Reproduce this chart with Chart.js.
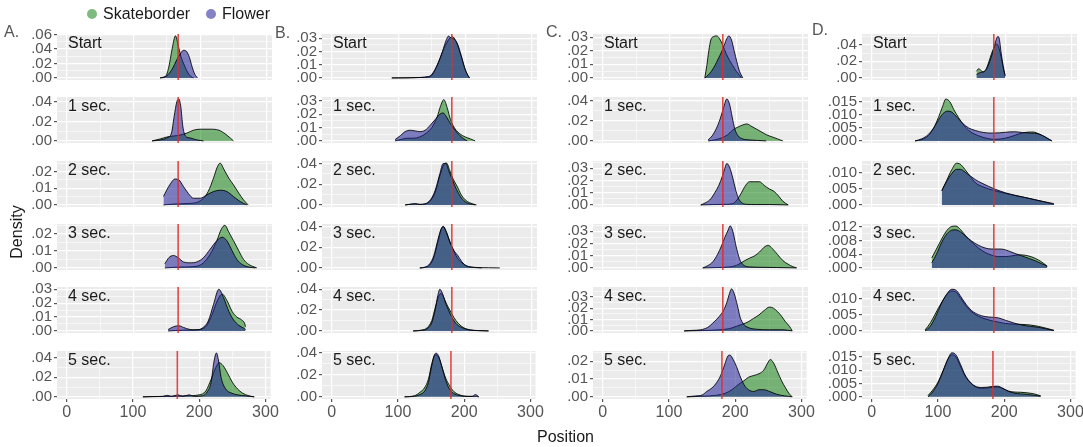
<!DOCTYPE html>
<html>
<head>
<meta charset="utf-8">
<script src="https://cdn.jsdelivr.net/npm/chart.js@4.4.1/dist/chart.umd.min.js"></script>
<style>
  body { margin: 0; background: #fff; font-family: "Liberation Sans", Arial, sans-serif; }
  #stage { position: relative; width: 1083px; height: 447px; overflow: hidden; }
  .box { position: absolute; }
  .txt { position: absolute; white-space: nowrap; font-size: 16px; line-height: 16px; color: #1a1a1a; }
  .grey { color: #555; }
  .dot { position: absolute; width: 10px; height: 10px; border-radius: 50%; }
</style>
</head>
<body>
<div id="stage"></div>
<script>
// ================= DATA =================
const rowLabels = ["Start", "1 sec.", "2 sec.", "3 sec.", "4 sec.", "5 sec."];
const panelLetters = ["A.", "B.", "C.", "D."];
const seriesNames = ["Skateborder", "Flower"];
const xTicks = [0, 100, 200, 300];
const refLines = [167, 180, 180, 183];

// top of each facet's density axis, and the spacing of its labelled ticks
const yTopA = [0.0605, 0.045, 0.0263, 0.0258, 0.0316, 0.047];
const yTopB = [0.0331, 0.033, 0.0425, 0.0427, 0.0422, 0.0415];
const yTopC = [0.0324, 0.044, 0.036, 0.036, 0.0387, 0.0258];
const yTopD = [0.053, 0.0168, 0.0137, 0.0128, 0.0135, 0.0172];
const yStepA = [0.02, 0.02, 0.01, 0.01, 0.01, 0.02];
const yStepB = [0.01, 0.01, 0.02, 0.02, 0.02, 0.02];
const yStepC = [0.01, 0.02, 0.01, 0.01, 0.01, 0.01];
const yStepD = [0.02, 0.005, 0.005, 0.004, 0.005, 0.005];

// [position, density] per row: Start, 1..5 sec.
const skateA = [
  [[140,0],[148,0.002],[153,0.015],[158,0.04],[163,0.058],[167,0.045],[171,0.03],[176,0.018],[181,0.008],[186,0.002],[190,0]],
  [[128,0],[140,0.002],[150,0.004],[160,0.005],[170,0.006],[180,0.008],[190,0.011],[200,0.012],[215,0.012],[228,0.011],[238,0.007],[245,0.003],[250,0]],
  [[145,0],[160,0.0005],[180,0.0008],[195,0.0015],[205,0.004],[212,0.008],[220,0.016],[226,0.023],[230,0.025],[236,0.021],[243,0.016],[250,0.012],[258,0.007],[265,0.003],[272,0]],
  [[147,0],[170,0.0005],[195,0.001],[205,0.003],[215,0.008],[225,0.016],[232,0.023],[237,0.025],[243,0.021],[250,0.016],[258,0.01],[265,0.005],[273,0.002],[285,0]],
  [[152,0],[175,0.0005],[200,0.001],[210,0.004],[218,0.012],[226,0.022],[233,0.0265],[240,0.022],[248,0.014],[255,0.01],[262,0.008],[267,0.005],[268,0.003]],
  [[115,0],[140,0.0003],[160,0.0005],[180,0.001],[200,0.002],[210,0.006],[218,0.018],[225,0.03],[230,0.035],[236,0.032],[243,0.024],[250,0.015],[258,0.008],[265,0.004],[275,0.001],[283,0]]
];
const flowerA = [
  [[140,0],[150,0.003],[158,0.012],[165,0.025],[170,0.033],[175,0.038],[180,0.036],[184,0.028],[188,0.015],[192,0.005],[196,0]],
  [[128,0],[140,0.001],[150,0.003],[157,0.008],[161,0.025],[165,0.04],[168,0.043],[171,0.035],[174,0.015],[178,0.005],[185,0.003],[195,0.001],[205,0]],
  [[145,0.005],[150,0.009],[156,0.013],[162,0.0155],[168,0.015],[175,0.011],[182,0.007],[190,0.004],[200,0.004],[210,0.006],[220,0.008],[230,0.0088],[240,0.008],[250,0.005],[260,0.002],[270,0]],
  [[147,0.0024],[153,0.006],[160,0.0073],[167,0.006],[175,0.0035],[185,0.003],[195,0.0035],[205,0.006],[215,0.011],[225,0.016],[233,0.018],[240,0.016],[248,0.01],[255,0.005],[263,0.002],[273,0.0005],[283,0]],
  [[152,0.001],[160,0.003],[168,0.0037],[175,0.0025],[185,0.001],[195,0.0008],[203,0.002],[212,0.007],[220,0.019],[228,0.03],[235,0.024],[243,0.014],[250,0.008],[258,0.004],[265,0.002],[268,0.001]],
  [[115,0],[130,0.0003],[145,0.0005],[152,0.0015],[158,0.0005],[168,0.002],[175,0.0005],[185,0.002],[192,0.0005],[205,0.001],[212,0.005],[218,0.015],[222,0.035],[226,0.045],[229,0.038],[233,0.02],[240,0.008],[248,0.004],[258,0.002],[270,0.001],[283,0]]
];
const skateB = [
  [[90,0],[110,0],[130,0.0003],[148,0.001],[155,0.006],[162,0.014],[168,0.022],[173,0.027],[177,0.03],[181,0.031],[186,0.028],[191,0.021],[196,0.013],[201,0.005],[206,0]],
  [[95,0],[103,0.001],[112,0.002],[122,0.002],[132,0.003],[142,0.006],[150,0.01],[158,0.018],[163,0.026],[168,0.031],[173,0.025],[178,0.016],[185,0.009],[193,0.005],[200,0.003],[208,0.0015],[215,0]],
  [[110,0],[120,0.0008],[125,0.001],[132,0.0005],[140,0.001],[148,0.004],[155,0.012],[162,0.028],[168,0.039],[172,0.0405],[177,0.033],[182,0.025],[188,0.018],[194,0.01],[200,0.005],[207,0.002],[217,0]],
  [[132,0],[140,0.0005],[147,0.003],[153,0.01],[159,0.025],[164,0.037],[167,0.0405],[172,0.035],[177,0.026],[182,0.018],[188,0.01],[195,0.005],[202,0.002],[215,0.0005],[235,0.0002],[252,0]],
  [[122,0],[135,0.0008],[143,0.003],[150,0.01],[155,0.022],[160,0.033],[164,0.036],[168,0.032],[172,0.026],[177,0.02],[183,0.013],[190,0.007],[198,0.003],[208,0.001],[220,0.0003],[235,0]],
  [[110,0],[125,0.001],[133,0.004],[140,0.008],[146,0.016],[151,0.03],[155,0.037],[158,0.038],[162,0.035],[167,0.026],[172,0.017],[178,0.01],[184,0.005],[192,0.002],[205,0.0005],[215,0.0005],[222,0]]
];
const flowerB = [
  [[90,0],[120,0.0002],[145,0.001],[152,0.004],[160,0.012],[166,0.02],[172,0.029],[175,0.0315],[179,0.03],[184,0.029],[189,0.025],[194,0.017],[199,0.008],[204,0.002],[207,0]],
  [[95,0.001],[103,0.004],[110,0.007],[118,0.008],[125,0.0075],[132,0.007],[140,0.008],[148,0.012],[155,0.016],[162,0.02],[167,0.021],[172,0.018],[178,0.013],[185,0.008],[192,0.004],[198,0.0015],[203,0]],
  [[110,0],[120,0.0008],[125,0.0012],[132,0.0005],[140,0.001],[148,0.005],[155,0.014],[162,0.03],[167,0.04],[171,0.04],[176,0.032],[181,0.024],[187,0.015],[193,0.008],[200,0.003],[207,0.001],[215,0]],
  [[132,0],[140,0.0008],[147,0.004],[153,0.012],[159,0.027],[164,0.038],[167,0.04],[172,0.034],[177,0.025],[183,0.017],[189,0.012],[195,0.006],[202,0.002],[212,0.0005],[225,0]],
  [[122,0],[135,0.0005],[143,0.002],[150,0.008],[155,0.02],[159,0.034],[162,0.04],[166,0.036],[170,0.028],[175,0.02],[181,0.012],[188,0.006],[196,0.003],[205,0.001],[220,0.0003],[235,0]],
  [[110,0],[125,0.0005],[133,0.002],[140,0.005],[146,0.013],[151,0.028],[155,0.038],[158,0.0395],[162,0.036],[166,0.028],[171,0.017],[176,0.009],[182,0.004],[190,0.0015],[200,0.0005],[212,0.0003],[217,0.002],[222,0]]
];
const skateC = [
  [[153,0],[156,0.009],[159,0.02],[162,0.028],[166,0.0305],[171,0.031],[175,0.029],[180,0.024],[185,0.018],[190,0.013],[195,0.009],[200,0.005],[205,0.002],[208,0]],
  [[158,0],[168,0.001],[178,0.003],[187,0.006],[195,0.011],[203,0.014],[210,0.016],[216,0.017],[222,0.015],[230,0.012],[238,0.009],[246,0.006],[254,0.004],[262,0.002],[270,0]],
  [[147,0],[165,0.0003],[185,0.0005],[195,0.001],[201,0.004],[207,0.009],[213,0.015],[220,0.019],[228,0.019],[235,0.019],[242,0.016],[250,0.013],[257,0.011],[264,0.007],[270,0.003],[278,0]],
  [[150,0],[170,0.0003],[190,0.0008],[200,0.002],[207,0.004],[213,0.006],[220,0.008],[228,0.01],[235,0.013],[242,0.017],[248,0.0185],[254,0.016],[262,0.011],[270,0.006],[278,0.003],[285,0.001],[291,0]],
  [[122,0],[150,0.0003],[175,0.001],[190,0.002],[200,0.004],[210,0.006],[218,0.008],[226,0.011],[234,0.014],[242,0.018],[250,0.021],[256,0.02],[262,0.017],[268,0.013],[274,0.008],[280,0.004],[284,0]],
  [[127,0],[150,0.0003],[170,0.0008],[185,0.002],[195,0.004],[205,0.007],[213,0.009],[220,0.011],[228,0.012],[236,0.013],[243,0.015],[249,0.019],[253,0.021],[258,0.019],[264,0.014],[270,0.009],[276,0.005],[281,0.002],[286,0]]
];
const flowerC = [
  [[153,0],[158,0.002],[163,0.005],[168,0.009],[173,0.014],[178,0.019],[182,0.024],[186,0.029],[189,0.031],[193,0.028],[197,0.02],[201,0.012],[205,0.005],[210,0]],
  [[158,0.001],[164,0.005],[170,0.012],[176,0.022],[181,0.033],[186,0.042],[190,0.037],[194,0.024],[198,0.012],[203,0.005],[210,0.002],[220,0.001],[232,0.0005],[245,0]],
  [[147,0],[155,0.002],[162,0.005],[168,0.01],[174,0.016],[179,0.023],[183,0.03],[186,0.034],[190,0.031],[195,0.022],[199,0.013],[203,0.006],[208,0.002],[215,0.0005],[230,0.0003],[250,0.0003],[278,0]],
  [[150,0],[158,0.002],[165,0.005],[172,0.011],[178,0.018],[183,0.025],[188,0.031],[191,0.0345],[195,0.03],[199,0.02],[203,0.011],[207,0.005],[212,0.002],[220,0.0008],[240,0.0005],[260,0.0003],[290,0]],
  [[122,0],[135,0.0005],[147,0.001],[157,0.003],[167,0.008],[175,0.013],[181,0.018],[186,0.025],[190,0.033],[193,0.037],[197,0.033],[202,0.022],[206,0.012],[211,0.006],[218,0.003],[230,0.0015],[250,0.001],[270,0.001],[284,0]],
  [[127,0],[140,0.0005],[150,0.001],[157,0.003],[165,0.005],[172,0.008],[178,0.012],[184,0.018],[189,0.023],[192,0.0235],[197,0.021],[202,0.017],[207,0.012],[213,0.007],[220,0.004],[228,0.003],[236,0.004],[243,0.004],[252,0.003],[262,0.0015],[275,0.0005],[286,0]]
];
const skateD = [
  [[157,0.008],[160,0.011],[164,0.009],[167,0.007],[171,0.01],[175,0.018],[179,0.028],[183,0.036],[187,0.041],[190,0.038],[194,0.025],[197,0.012],[200,0.002]],
  [[65,0],[75,0.0005],[85,0.002],[93,0.005],[100,0.009],[106,0.013],[111,0.016],[117,0.015],[123,0.012],[130,0.009],[138,0.006],[148,0.0035],[160,0.002],[172,0.001],[183,0.0006],[195,0.0008],[207,0.0015],[220,0.0026],[232,0.0033],[242,0.0034],[252,0.0025],[262,0.0012],[270,0]],
  [[105,0.0044],[112,0.0075],[120,0.011],[127,0.013],[132,0.0128],[140,0.011],[148,0.0088],[156,0.0068],[165,0.0058],[175,0.005],[185,0.0044],[200,0.0036],[215,0.0029],[230,0.0023],[245,0.0016],[258,0.001],[273,0.0002]],
  [[90,0.0029],[97,0.0055],[105,0.0085],[113,0.011],[120,0.0121],[126,0.0122],[133,0.0112],[141,0.0093],[150,0.0075],[160,0.0058],[170,0.0045],[180,0.0037],[190,0.0033],[200,0.0033],[210,0.0035],[220,0.0038],[230,0.0037],[240,0.0032],[250,0.0023],[257,0.0014],[263,0.0005]],
  [[80,0.0003],[88,0.0025],[96,0.0055],[104,0.0085],[112,0.011],[120,0.0123],[127,0.0118],[134,0.0098],[142,0.0075],[150,0.0058],[160,0.0045],[170,0.0037],[180,0.0031],[190,0.0027],[200,0.0023],[212,0.0021],[225,0.002],[238,0.0018],[250,0.0014],[262,0.0008],[273,0.0002]],
  [[85,0.0005],[92,0.0025],[100,0.0055],[108,0.01],[115,0.014],[121,0.0158],[127,0.015],[134,0.0115],[141,0.0078],[150,0.005],[158,0.0036],[166,0.0032],[174,0.0033],[182,0.0036],[190,0.0037],[198,0.0031],[206,0.0022],[215,0.0018],[225,0.0017],[235,0.0015],[245,0.0011],[255,0.0004]]
];
const flowerD = [
  [[157,0.004],[161,0.006],[165,0.007],[169,0.008],[173,0.012],[177,0.02],[181,0.03],[185,0.042],[189,0.05],[191,0.048],[194,0.03],[197,0.015],[200,0.003]],
  [[65,0],[75,0.0008],[85,0.0025],[93,0.005],[100,0.008],[107,0.0105],[114,0.0114],[120,0.011],[128,0.009],[136,0.0068],[145,0.005],[155,0.004],[168,0.0032],[180,0.003],[192,0.0031],[204,0.0034],[214,0.0035],[226,0.0032],[238,0.003],[250,0.0027],[260,0.0015],[270,0]],
  [[105,0.0045],[112,0.0072],[120,0.0098],[127,0.0111],[133,0.0111],[140,0.0102],[148,0.009],[156,0.0078],[165,0.0068],[175,0.0058],[185,0.0049],[200,0.0038],[215,0.003],[230,0.0023],[245,0.0016],[258,0.001],[273,0.0004]],
  [[90,0.0015],[97,0.004],[105,0.0075],[113,0.01],[120,0.011],[126,0.0111],[133,0.0105],[141,0.0092],[150,0.0078],[160,0.0066],[170,0.0058],[180,0.0055],[190,0.0055],[198,0.0054],[207,0.0048],[215,0.0042],[225,0.0035],[235,0.0028],[245,0.0021],[255,0.0012],[263,0.0005]],
  [[80,0],[88,0.0015],[96,0.0045],[104,0.0082],[112,0.0112],[120,0.0128],[127,0.0124],[134,0.0104],[142,0.008],[150,0.0062],[160,0.005],[170,0.0044],[180,0.0042],[190,0.004],[200,0.0033],[212,0.0025],[225,0.0018],[238,0.0014],[250,0.0011],[262,0.0006],[273,0.0001]],
  [[85,0],[92,0.0018],[100,0.005],[108,0.0098],[115,0.0142],[121,0.0165],[127,0.0158],[134,0.0122],[141,0.0082],[150,0.0052],[158,0.0038],[166,0.0035],[174,0.0036],[182,0.0039],[190,0.004],[198,0.0032],[206,0.0021],[215,0.0014],[225,0.0011],[235,0.0009],[245,0.0006],[255,0.0002]]
];

const skate = [skateA, skateB, skateC, skateD];
const flower = [flowerA, flowerB, flowerC, flowerD];
const yTops = [yTopA, yTopB, yTopC, yTopD];
const ySteps = [yStepA, yStepB, yStepC, yStepD];

// ================= LAYOUT =================
const COL_LEFT = [57, 322, 593, 862];
const ROW_TOP = [32, 95, 158.5, 222, 285, 348.5];
const PW = 215, PH = 50;
const AXW = 52, PADT = 9, PADB = 9, PADR = 8, XAXH = 22;
const X_MIN = -14.6, X_MAX = 307.7;

const GREEN = "rgba(0, 120, 0, 0.5)";
const PURPLE = "rgba(30, 30, 150, 0.55)";
const RED = "rgba(222, 45, 45, 0.85)";
const TICK_GREY = "#555";
const FONT = "'Liberation Sans', Arial, sans-serif";

const stage = document.getElementById("stage");

function addText(str, left, top, cls, extra) {
  const d = document.createElement("div");
  d.className = "txt " + (cls || "");
  d.textContent = str;
  d.style.left = left + "px";
  d.style.top = top + "px";
  if (extra) Object.assign(d.style, extra);
  stage.appendChild(d);
  return d;
}

const panelBg = {
  id: "panelBg",
  beforeDraw(chart) {
    const { ctx, chartArea: a } = chart;
    ctx.save();
    ctx.fillStyle = "#ebebeb";
    ctx.fillRect(a.left, a.top, a.right - a.left, a.bottom - a.top);
    ctx.restore();
  }
};

const toPts = arr => arr.map(([x, y]) => ({ x, y }));

function makePanel(c, r) {
  const bottomRow = r === rowLabels.length - 1;
  const yTop = yTops[c][r];
  const yMin = -yTop * 0.05 / 1.05;
  const step = ySteps[c][r];
  const decimals = (c === 3 && r > 0) ? 3 : 2;

  const wrap = document.createElement("div");
  wrap.className = "box";
  wrap.style.left = (COL_LEFT[c] - AXW) + "px";
  wrap.style.top = (ROW_TOP[r] - PADT) + "px";
  wrap.style.width = (AXW + PW + PADR) + "px";
  wrap.style.height = (PADT + PH + PADB + (bottomRow ? XAXH : 0)) + "px";
  const canvas = document.createElement("canvas");
  wrap.appendChild(canvas);
  stage.appendChild(wrap);

  const isMajorY = v => Math.abs(Math.round(v / step) * step - v) < step * 1e-3;
  const isMajorX = v => v % 100 === 0;

  new Chart(canvas.getContext("2d"), {
    type: "line",
    data: {
      datasets: [
        {
          label: seriesNames[0],
          data: toPts(skate[c][r]),
          fill: "origin",
          backgroundColor: GREEN,
          borderColor: "rgba(0,0,0,0.85)",
          borderWidth: 1,
          pointRadius: 0,
          cubicInterpolationMode: "monotone",
          order: 3
        },
        {
          label: seriesNames[1],
          data: toPts(flower[c][r]),
          fill: "origin",
          backgroundColor: PURPLE,
          borderColor: "rgba(0,0,0,0.85)",
          borderWidth: 1,
          pointRadius: 0,
          cubicInterpolationMode: "monotone",
          order: 2
        },
        {
          label: "ref",
          data: [{ x: refLines[c], y: yMin }, { x: refLines[c], y: yTop }],
          fill: false,
          borderColor: RED,
          borderWidth: 1.6,
          pointRadius: 0,
          order: 1
        }
      ]
    },
    options: {
      responsive: true,
      maintainAspectRatio: false,
      animation: false,
      events: [],
      layout: { padding: { left: 0, right: PADR, top: PADT, bottom: PADB } },
      plugins: { legend: { display: false }, tooltip: { enabled: false } },
      scales: {
        x: {
          type: "linear",
          min: X_MIN,
          max: X_MAX,
          afterBuildTicks: s => { s.ticks = [0, 50, 100, 150, 200, 250, 300].map(v => ({ value: v })); },
          afterFit: s => { s.height = bottomRow ? XAXH : 0; },
          border: { display: false },
          grid: {
            color: "#ffffff",
            lineWidth: ctx => (ctx.tick && isMajorX(ctx.tick.value)) ? 1.2 : 0.6,
            drawTicks: bottomRow,
            tickLength: 3,
            tickColor: ctx => (ctx.tick && isMajorX(ctx.tick.value)) ? TICK_GREY : "rgba(0,0,0,0)"
          },
          ticks: {
            display: bottomRow,
            autoSkip: false,
            maxRotation: 0,
            padding: 1,
            color: "#555",
            font: { family: FONT, size: 16 },
            callback: v => xTicks.includes(v) ? String(v) : ""
          }
        },
        y: {
          type: "linear",
          min: yMin,
          max: yTop,
          afterBuildTicks: s => {
            const t = [];
            for (let k = 0; k * step / 2 <= yTop + 1e-9; k++) t.push({ value: k * step / 2 });
            s.ticks = t;
          },
          afterFit: s => { s.width = AXW; },
          border: { display: false },
          grid: {
            color: "#ffffff",
            lineWidth: ctx => (ctx.tick && isMajorY(ctx.tick.value)) ? 1.2 : 0.6,
            tickLength: 3,
            tickColor: ctx => (ctx.tick && isMajorY(ctx.tick.value)) ? TICK_GREY : "rgba(0,0,0,0)"
          },
          ticks: {
            autoSkip: false,
            padding: 2,
            color: "#555",
            font: { family: FONT, size: 15 },
            callback: v => isMajorY(v) ? v.toFixed(decimals).replace(/^0/, "") : ""
          }
        }
      }
    },
    plugins: [panelBg]
  });

  addText(rowLabels[r], COL_LEFT[c] + 11, ROW_TOP[r] + 3);
}

for (let c = 0; c < 4; c++) {
  for (let r = 0; r < rowLabels.length; r++) makePanel(c, r);
}

// panel letters
const letterPos = [[4, 24], [275, 25], [546, 24], [812, 22]];
panelLetters.forEach((l, i) => addText(l, letterPos[i][0], letterPos[i][1], "grey"));

// legend
const legendItems = [
  { name: seriesNames[0], color: "rgba(0,120,0,0.5)", dot: 87, text: 103 },
  { name: seriesNames[1], color: "rgba(30,30,150,0.55)", dot: 206, text: 222 }
];
legendItems.forEach(it => {
  const d = document.createElement("div");
  d.className = "dot";
  d.style.left = it.dot + "px";
  d.style.top = "9px";
  d.style.background = it.color;
  stage.appendChild(d);
  addText(it.name, it.text, 6);
});

// axis titles
addText("Position", 537, 429);
addText("Density", 17, 232, "", { transform: "translate(-50%, -50%) rotate(-90deg)" });
</script>
</body>
</html>
